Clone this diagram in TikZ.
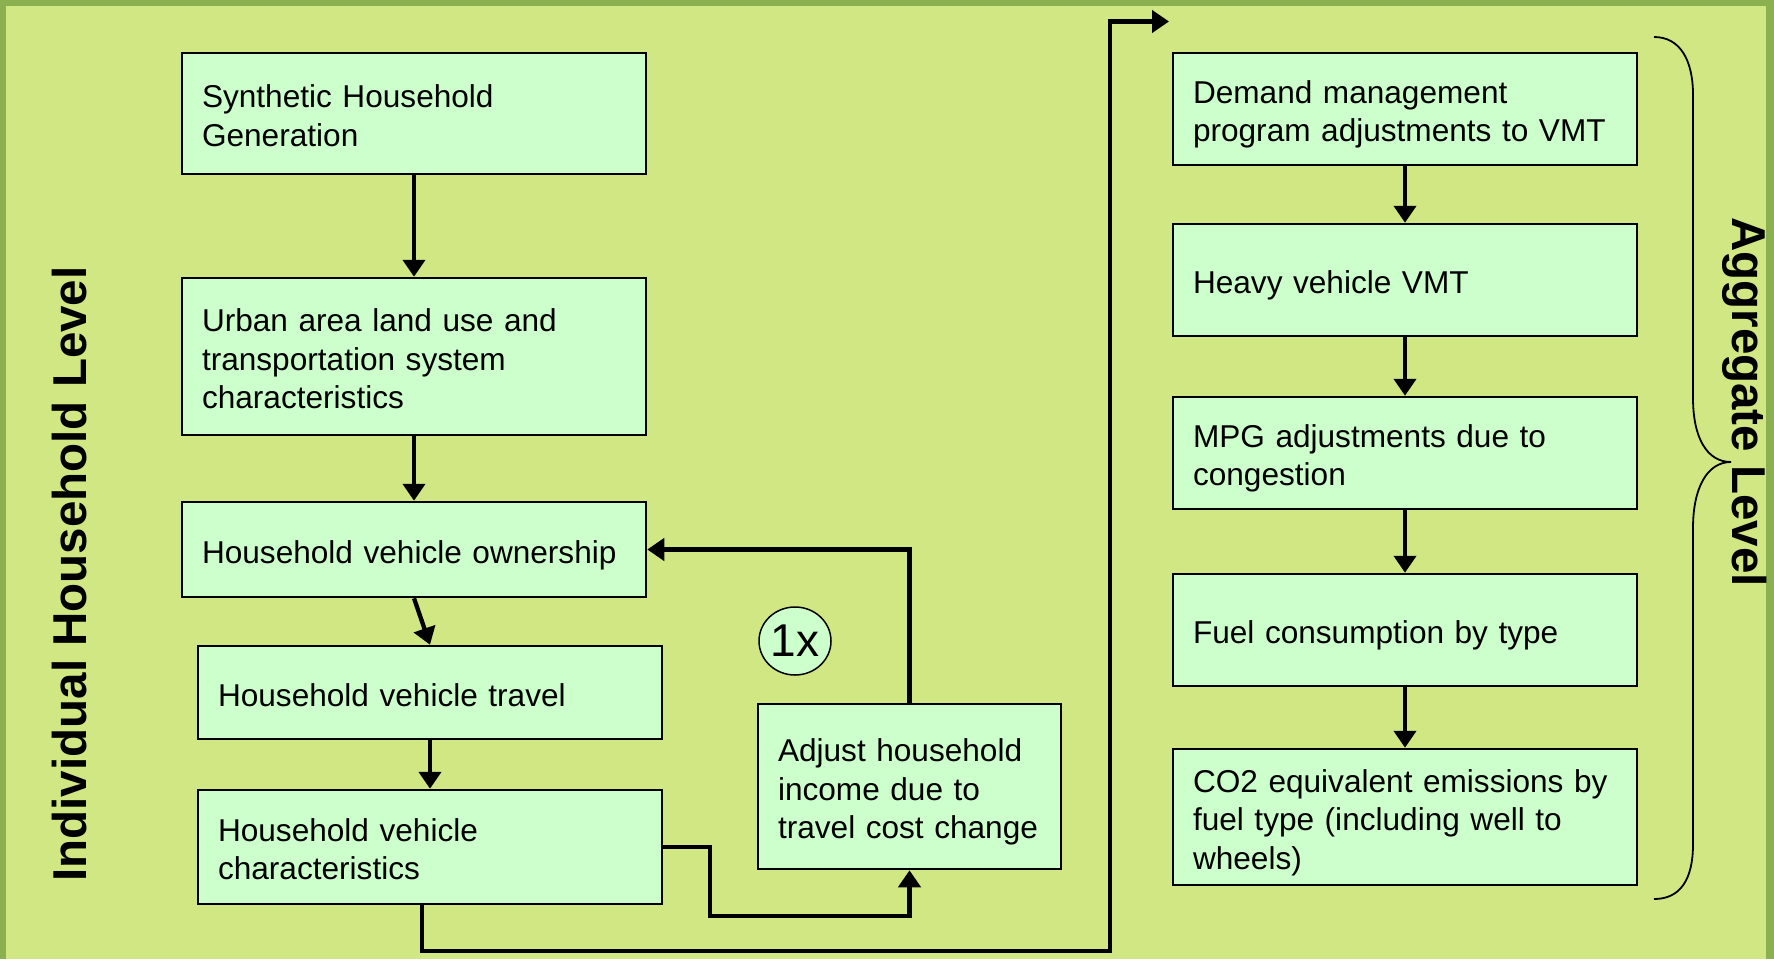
\documentclass[tikz,border=0pt]{standalone}
\usepackage{fontspec}
\setmainfont{Liberation Sans}
\usetikzlibrary{arrows.meta,shapes.geometric}
\definecolor{frame}{HTML}{8BB04F}
\definecolor{bgc}{HTML}{D1E784}
\definecolor{boxc}{HTML}{CCFFCC}
\tikzset{
  box/.style={draw=black, line width=2.5pt, fill=boxc, inner xsep=20pt, inner ysep=0pt,
    align=left, font=\fontsize{31.6}{38.5}\selectfont, anchor=center,
    execute at begin node={\rule{0pt}{36pt}}, execute at end node={\rule[-9pt]{0pt}{0pt}}},
  lbox/.style={box, minimum width=464pt, text width=424pt},
  sbox/.style={box, minimum width=303pt, text width=263pt},
  arr/.style={line width=4.3pt, -{Triangle[length=17pt,width=22pt]}},
  side/.style={font=\bfseries\fontsize{47.5}{50}\selectfont, inner sep=0pt}
}
\begin{document}
\begin{tikzpicture}[x=1pt,y=-1pt]
\useasboundingbox (0,0) rectangle (1774,959);
\fill[frame] (0,0) rectangle (1774,959);
\fill[bgc] (6,6) rectangle (1766,959);

% left column
\node[lbox, minimum height=121pt] (b1) at (414,113.5) {Synthetic Household\\Generation};
\node[lbox, minimum height=157pt] (b2) at (414,356.5) {Urban area land use and\\transportation system\\characteristics};
\node[lbox, minimum height=95pt] (b3) at (414,549.5) {Household vehicle ownership};
\node[lbox, minimum height=93pt] (b4) at (430,692.5) {Household vehicle travel};
\node[lbox, minimum height=114pt] (b5) at (430,847) {Household vehicle\\characteristics};
\node[sbox, minimum height=165pt] (b6) at (909.5,786.5) {Adjust household\\income due to\\travel cost change};
\node[draw=black, line width=1.5pt, fill=boxc, ellipse, minimum width=72pt, minimum height=68pt,
  inner sep=0pt, font=\fontsize{46}{46}\selectfont] (rep) at (795,641) {1x};

% right column
\node[lbox, minimum height=112pt] (r1) at (1405,109) {Demand management\\program adjustments to VMT};
\node[lbox, minimum height=112pt] (r2) at (1405,280) {Heavy vehicle VMT};
\node[lbox, minimum height=112pt] (r3) at (1405,453) {MPG adjustments due to\\congestion};
\node[lbox, minimum height=112pt] (r4) at (1405,630) {Fuel consumption by type};
\node[lbox, minimum height=136pt] (r5) at (1405,817) {CO2 equivalent emissions by\\fuel type (including well to\\wheels)};

% side labels
\node[side, rotate=90] (lab1) at (70,574) {Individual Household Level};
\node[side, rotate=-90] (lab2) at (1745,402) {Aggregate Level};

% connectors
\coordinate (c1) at (710,916);
\coordinate (c2) at (1110,951);
\coordinate (c3) at (1169,21.5);
\draw[arr] (b1) -- (b2);
\draw[arr] (b2) -- (b3);
\draw[arr] (b3.south) -- (b4.north);
\draw[arr] (b4) -- (b5);
\draw[arr] (b5.east) -| (c1) -| (b6.south);
\draw[arr] (b6.north) |- (b3.east);
\draw[arr] ([xshift=-8pt]b5.south) |- (c2) |- (c3);
\draw[arr] (r1) -- (r2);
\draw[arr] (r2) -- (r3);
\draw[arr] (r3) -- (r4);
\draw[arr] (r4) -- (r5);

% brace
\draw[line width=1.8pt] (1654,37) .. controls (1680,37) and (1693,60) .. (1693,95)
  -- (1693,398) .. controls (1693,438) and (1707,462) .. (1731,462)
  .. controls (1707,462) and (1693,488) .. (1693,528)
  -- (1693,844) .. controls (1693,880) and (1680,899) .. (1654,899);
\end{tikzpicture}
\end{document}
